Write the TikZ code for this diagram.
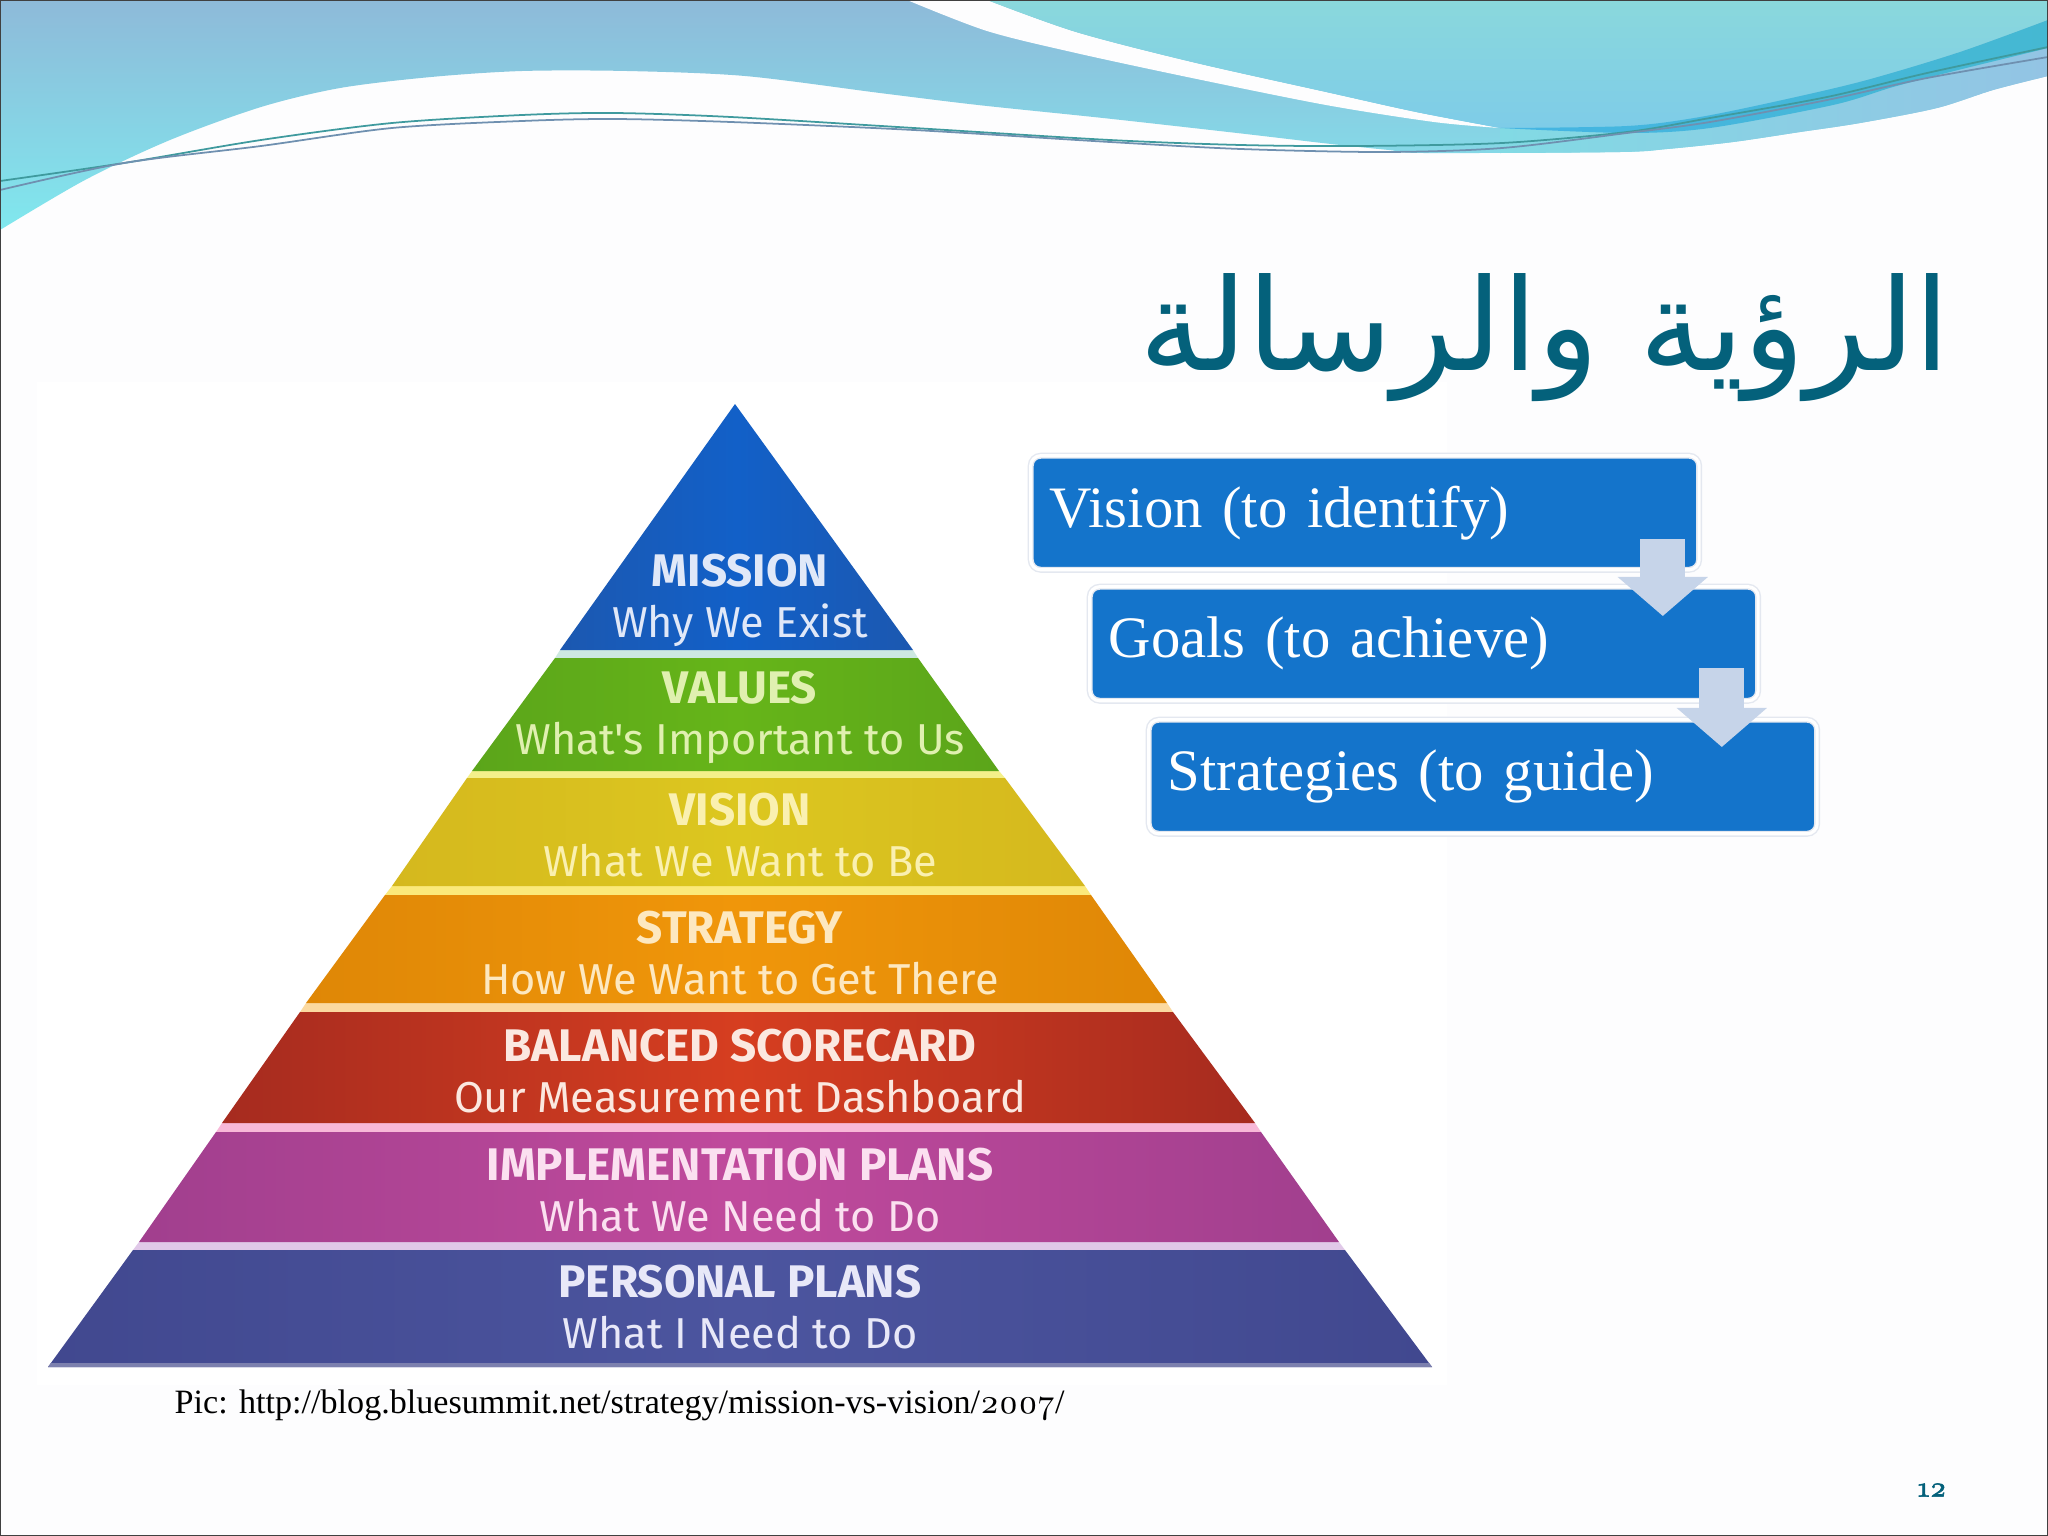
\documentclass[tikz,border=0pt]{standalone}
\usepackage{fontspec}
\usepackage{tikz}
\usetikzlibrary{arrows.meta, calc, positioning}
\setmainfont{Liberation Serif}
\newfontfamily\arabicfont[Script=Arabic]{DejaVu Sans}
\newfontfamily\tierfont{Fira Sans}
\newfontfamily\digitfont[Numbers=OldStyle]{Latin Modern Roman}
\newfontfamily\pagefont[Numbers=OldStyle,FakeBold=2]{Latin Modern Roman}
\TeXXeTstate=1

\definecolor{pagebg}{HTML}{FDFDFE}
\definecolor{titleteal}{HTML}{04617B}
\definecolor{boxblue}{HTML}{1474CB}
\definecolor{boxedge}{HTML}{E4E8F0}
\definecolor{arrowpale}{HTML}{C6D4E9}
% Header waves
\definecolor{wavetop}{HTML}{8EBAD9}
\definecolor{wavelow}{HTML}{80E8EE}
\definecolor{crestop}{HTML}{8AD8DC}
\definecolor{creslow}{HTML}{7ECCE8}
\definecolor{tailleft}{HTML}{82DAE4}
\definecolor{tailright}{HTML}{93C4E4}
\definecolor{swooshleft}{HTML}{45B5E3}
\definecolor{swooshright}{HTML}{45B8D2}
\definecolor{swirlone}{HTML}{3F9A9E}
\definecolor{swirltwo}{HTML}{6F90B0}
% Tier edges, centres, strips and letters
\definecolor{blueedge}{HTML}{1C58B0}   \definecolor{bluemid}{HTML}{1260C8}   \definecolor{bluetext}{HTML}{E0E8F8}
\definecolor{greenedge}{HTML}{5BA51A}  \definecolor{greenmid}{HTML}{66B519}  \definecolor{greentext}{HTML}{E0F0B0}
\definecolor{yellowedge}{HTML}{D5B81E} \definecolor{yellowmid}{HTML}{DCC71F} \definecolor{yellowtext}{HTML}{FAF0B0}
\definecolor{orangeedge}{HTML}{DF8706} \definecolor{orangemid}{HTML}{F0960A} \definecolor{orangetext}{HTML}{FDE8C0}
\definecolor{rededge}{HTML}{A62B1F}    \definecolor{redmid}{HTML}{D63E20}    \definecolor{redtext}{HTML}{FBE8E0}
\definecolor{purpleedge}{HTML}{A13F8E} \definecolor{purplemid}{HTML}{C04A9C} \definecolor{purpletext}{HTML}{FBE0F0}
\definecolor{indigoedge}{HTML}{41488F} \definecolor{indigomid}{HTML}{4C559F} \definecolor{indigotext}{HTML}{E8E8F8}
\definecolor{stripa}{HTML}{CDE8E0}
\definecolor{stripb}{HTML}{F4F08A}
\definecolor{stripc}{HTML}{FBE97A}
\definecolor{stripd}{HTML}{FBD9A0}
\definecolor{stripe}{HTML}{F8B8D8}
\definecolor{stripf}{HTML}{E0C8E8}
\definecolor{basestrip}{HTML}{7C80AE}

\newcommand{\tierhead}[1]{{\bfseries\fontsize{13}{14.5}\selectfont #1}}

\tikzset{
  stepbox/.style={draw=boxedge, line width=0.4pt, double=white, double distance=0.9pt, fill=boxblue, rounded corners=0.1cm,
    minimum width=6.68cm, minimum height=1.14cm, text width=6.3cm, inner xsep=0.19cm, align=left, text=white,
    font=\fontsize{16.7}{20}\selectfont, anchor=north west},
  blockarrow/.style={arrowpale, line width=0.45cm, -{Triangle[length=0.39cm, width=0.88cm]}},
  tierlabel/.style={align=center, font=\tierfont\fontsize{12.3}{14.5}\selectfont},
  swirl/.style={line width=0.5pt}
}

\begin{document}
\begin{tikzpicture}[x=0.01cm, y=-0.01cm]
\useasboundingbox (0,0) rectangle (2048,1536);
\fill[pagebg] (0,0) rectangle (2048,1536);

% Wave header
\shade[top color=wavetop, bottom color=wavelow]
  (0,0) -- (0,230) -- plot[smooth] coordinates {(0,230) (85,180) (170,140) (261,107) (340,88) (431,77) (522,71) (627,71) (745,76) (880,93) (978,105) (1103,118) (1237,133) (1331,144) (1389,150) (1424,153) (1620,152) (1667,149) (1733,142) (1800,132) (1860,123) (1937,108) (1993,90) (2048,76)} -- (2048,0) -- cycle;
\shade[left color=tailleft, right color=tailright] (1500,128) -- plot[smooth] coordinates {(1500,128) (1627,133) (1710,128) (1833,105) (1893,87) (1950,72) (2048,48)} -- (2048,76) -- plot[smooth] coordinates {(2048,76) (1993,90) (1937,108) (1860,123) (1800,132) (1733,142) (1667,149) (1620,152) (1500,153)} -- cycle;
\fill[pagebg] plot[smooth] coordinates {(907,0) (987,31) (1076,53) (1192,78) (1326,105) (1434,122) (1500,128)} -- plot[smooth] coordinates {(1500,128) (1416,112) (1326,92) (1192,62) (1076,32) (987,0)} -- cycle;
\shade[top color=crestop, bottom color=creslow]
  (987,0) -- plot[smooth] coordinates {(987,0) (1076,32) (1192,62) (1326,92) (1416,112) (1500,128)} -- plot[smooth] coordinates {(1500,128) (1627,126) (1700,117) (1787,99) (1867,80) (1960,52) (2048,20)} -- (2048,0) -- cycle;
\shade[left color=swooshleft, right color=swooshright] plot[smooth] coordinates {(1500,128) (1627,126) (1700,117) (1787,99) (1867,80) (1960,52) (2048,20)} -- plot[smooth] coordinates {(2048,48) (1950,72) (1893,87) (1833,105) (1710,128) (1627,133) (1500,128)} -- cycle;
\draw[swirl, swirlone] plot[smooth] coordinates {(0,181) (124,163) (261,140) (392,123) (522,115) (614,113) (731,117) (914,128) (1110,140) (1241,145) (1358,146) (1502,143) (1627,132) (1710,118) (1827,97) (1927,73) (2048,47)};
\draw[swirl, swirltwo] plot[smooth] coordinates {(0,190) (124,163) (261,146) (392,128) (522,121) (614,119) (731,122) (914,130) (1110,142) (1241,149) (1384,152) (1502,148) (1627,133) (1710,122) (1827,100) (1927,78) (2048,57)};

% Pyramid backdrop
\fill[white] (37,382) rectangle (1447,1385);

% Pale strips between the tiers
\fill[stripa] (560,650) -- (913,650) -- (918,658) -- (555,658) -- cycle;
\fill[stripb] (472,771) -- (999,771) -- (1005,778) -- (467,778) -- cycle;
\fill[stripc] (392,886) -- (1085,886) -- (1091,895) -- (385,895) -- cycle;
\fill[stripd] (306,1003) -- (1167,1003) -- (1173,1012) -- (300,1012) -- cycle;
\fill[stripe] (222,1123) -- (1255,1123) -- (1261,1132) -- (216,1132) -- cycle;
\fill[stripf] (139,1242) -- (1339,1242) -- (1345,1250) -- (133,1250) -- cycle;

% Pyramid tiers
\shade[left color=blueedge, right color=blueedge, middle color=bluemid] (735,404) -- (913,650) -- (560,650) -- cycle;
\shade[left color=greenedge, right color=greenedge, middle color=greenmid] (555,658) -- (918,658) -- (999,771) -- (472,771) -- cycle;
\shade[left color=yellowedge, right color=yellowedge, middle color=yellowmid] (467,778) -- (1005,778) -- (1085,886) -- (392,886) -- cycle;
\shade[left color=orangeedge, right color=orangeedge, middle color=orangemid] (385,895) -- (1091,895) -- (1167,1003) -- (306,1003) -- cycle;
\shade[left color=rededge, right color=rededge, middle color=redmid] (300,1012) -- (1173,1012) -- (1255,1123) -- (222,1123) -- cycle;
\shade[left color=purpleedge, right color=purpleedge, middle color=purplemid] (216,1132) -- (1261,1132) -- (1339,1242) -- (139,1242) -- cycle;
\shade[left color=indigoedge, right color=indigoedge, middle color=indigomid] (133,1250) -- (1345,1250) -- (1432,1367) -- (48,1367) -- cycle;
\fill[basestrip] (51,1363) -- (1429,1363) -- (1432,1367) -- (48,1367) -- cycle;

% Tier labels
\node[tierlabel, text=bluetext] (mission) at (740,600) {\tierhead{MISSION}\\Why We Exist};
\node[tierlabel, text=greentext] (values) at (740,717) {\tierhead{VALUES}\\What's Important to Us};
\node[tierlabel, text=yellowtext] (visiontier) at (740,835) {\tierhead{VISION}\\What We Want to Be};
\node[tierlabel, text=orangetext] (strategy) at (740,953) {\tierhead{STRATEGY}\\How We Want to Get There};
\node[tierlabel, text=redtext] (scorecard) at (740,1071) {\tierhead{BALANCED SCORECARD}\\Our Measurement Dashboard};
\node[tierlabel, text=purpletext] (implementation) at (740,1190) {\tierhead{IMPLEMENTATION PLANS}\\What We Need to Do};
\node[tierlabel, text=indigotext] (personal) at (740,1307) {\tierhead{PERSONAL PLANS}\\What I Need to Do};

% Title, source and slide number
\node[font=\arabicfont\fontsize{36.3}{40}\selectfont, text=titleteal, anchor=east, inner sep=0pt] (title) at (1951,338) {\beginR الرؤية والرسالة\endR};
\node[anchor=base west, font=\fontsize{9.7}{11}\selectfont, inner sep=0pt] (source) at (174,1413) {Pic: http://blog.bluesummit.net/strategy/mission-vs-vision/{\digitfont 2007}/};
\node[font=\pagefont\fontsize{8}{9}\selectfont, text=titleteal] (slidenum) at (1932,1490) {12};

% Goal boxes
\node[stepbox] (vision) at (1030,455) {Vision (to identify)};
\node[stepbox] (goals) at (1089,586) {Goals (to achieve)};
\node[stepbox] (guide) at (1148,719) {Strategies (to guide)};

\draw[blockarrow] ($(vision.south east)+(-37,-31)$) -- ($(goals.north east)+(-96,30)$);
\draw[blockarrow] ($(goals.south east)+(-37,-33)$) -- ($(guide.north east)+(-96,28)$);

% Frame
\draw[black!75, line width=0.5pt] (0,0) rectangle (2048,1536);
\end{tikzpicture}
\end{document}
